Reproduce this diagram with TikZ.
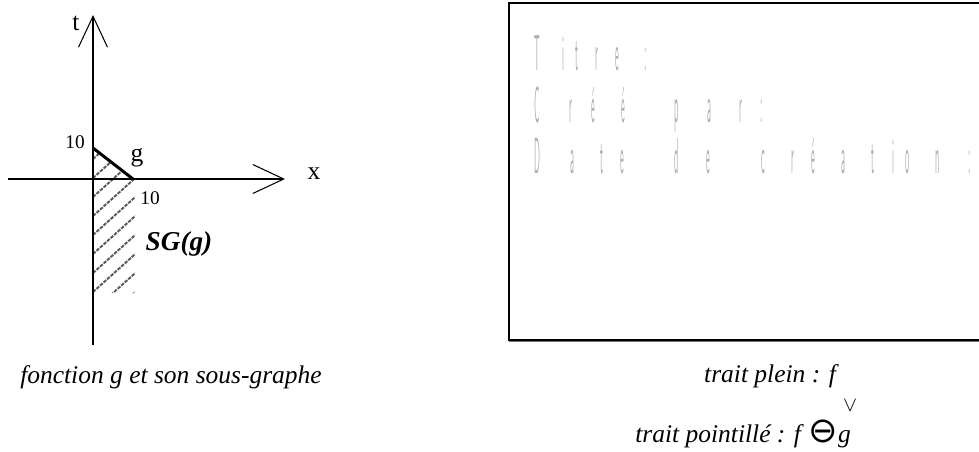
\documentclass[tikz,border=0pt]{standalone}
\usepackage{fontspec}
\setmainfont{Liberation Serif}
\newfontfamily\symfont{DejaVu Sans}
\usepackage{graphicx}
\usetikzlibrary{arrows.meta,positioning}

\begin{document}
\begin{tikzpicture}[x=0.02cm,y=-0.02cm,
axis/.style={line width=0.6pt,-{Straight Barb[length=0.62cm,width=0.58cm,line width=0.6pt]}},
graph/.style={line width=1.7pt},
hatch/.style={black!65,line width=1.1pt,dash pattern=on 2pt off 0.7pt},
lbl/.style={inner sep=0,font=\fontsize{14.5}{16}\selectfont},
num/.style={inner sep=0,font=\fontsize{11}{12}\selectfont},
caption/.style={inner sep=0,anchor=base,font=\fontsize{14.5}{17}\selectfont\itshape},
faint/.style={inner sep=0,anchor=base,text=black!32,font=\sffamily\fontsize{12}{12}\selectfont}]
\useasboundingbox (0,0) rectangle (979,451);
% axes
\coordinate (O) at (93,179);
\coordinate (tbot) at (93,345);\coordinate (ttop) at (93,15);
\coordinate (xleft) at (8,179);\coordinate (xright) at (285,179);
\coordinate (g0) at (93,148);\coordinate (g1) at (133,179);
% sous-graphe
\begin{scope}
\clip (g0) -- (g1) -- (135,179) -- (135,293) -- (93,293) -- cycle;
\foreach \k in {0,...,10}
  \draw[hatch] (93,140+19*\k) -- ++(50,-45);
\end{scope}
\draw[axis] (tbot) -- (ttop);
\draw[axis] (xleft) -- (xright);
\draw[graph] (g0) -- (g1);
\node[lbl] (tlab) at (76,23) {t};
\node[lbl] (xlab) at (314,174) {x};
\node[num] (tten) at (75,142) {10};
\node[num] (xten) at (150,198) {10};
\node[lbl] (glab) at (137,158) {g};
\node[inner sep=0,font=\fontsize{15.5}{18}\selectfont\bfseries\itshape] (sg) at (179,244) {SG(g)};
\node[caption] (capleft) at (171,383) {fonction g et son sous-graphe};
% cadre
\draw[line width=0.9pt] (986,3) -- (509,3) -- (509,340) -- (986,340);
\draw[black!55,line width=0.8pt] (509,341.5) -- (986,341.5);
\foreach \c/\x in {T/537,i/563,t/577,r/597,e/617,:/646}
  \node[faint] (titre-\x) at (\x,70) {\scalebox{0.4}[2.4]{\c}};
\foreach \c/\x in {C/537,r/571,é/593,é/623,p/677,a/709,r/741,:/762}
  \node[faint] (cree-\x) at (\x,122) {\scalebox{0.4}[2.4]{\c}};
\foreach \c/\x in {D/537,a/572,t/602,e/622,d/677,e/708,c/763,r/793,é/813,a/843,t/873,i/893,o/908,n/938,:/970}
  \node[faint] (date-\x) at (\x,173) {\scalebox{0.4}[2.4]{\c}};
\node[caption] (plein) at (770,382) {trait plein : f};
\node[caption,anchor=base west] (pointille) at (635,442) {trait pointillé : f\hspace{0.3em}{\upshape\symfont\fontsize{20}{20}\selectfont ⊖}\rlap{\raisebox{1.2em}{\hspace{0.2em}\upshape\fontsize{13}{13}\selectfont$\vee$}}g};
\end{tikzpicture}
\end{document}
